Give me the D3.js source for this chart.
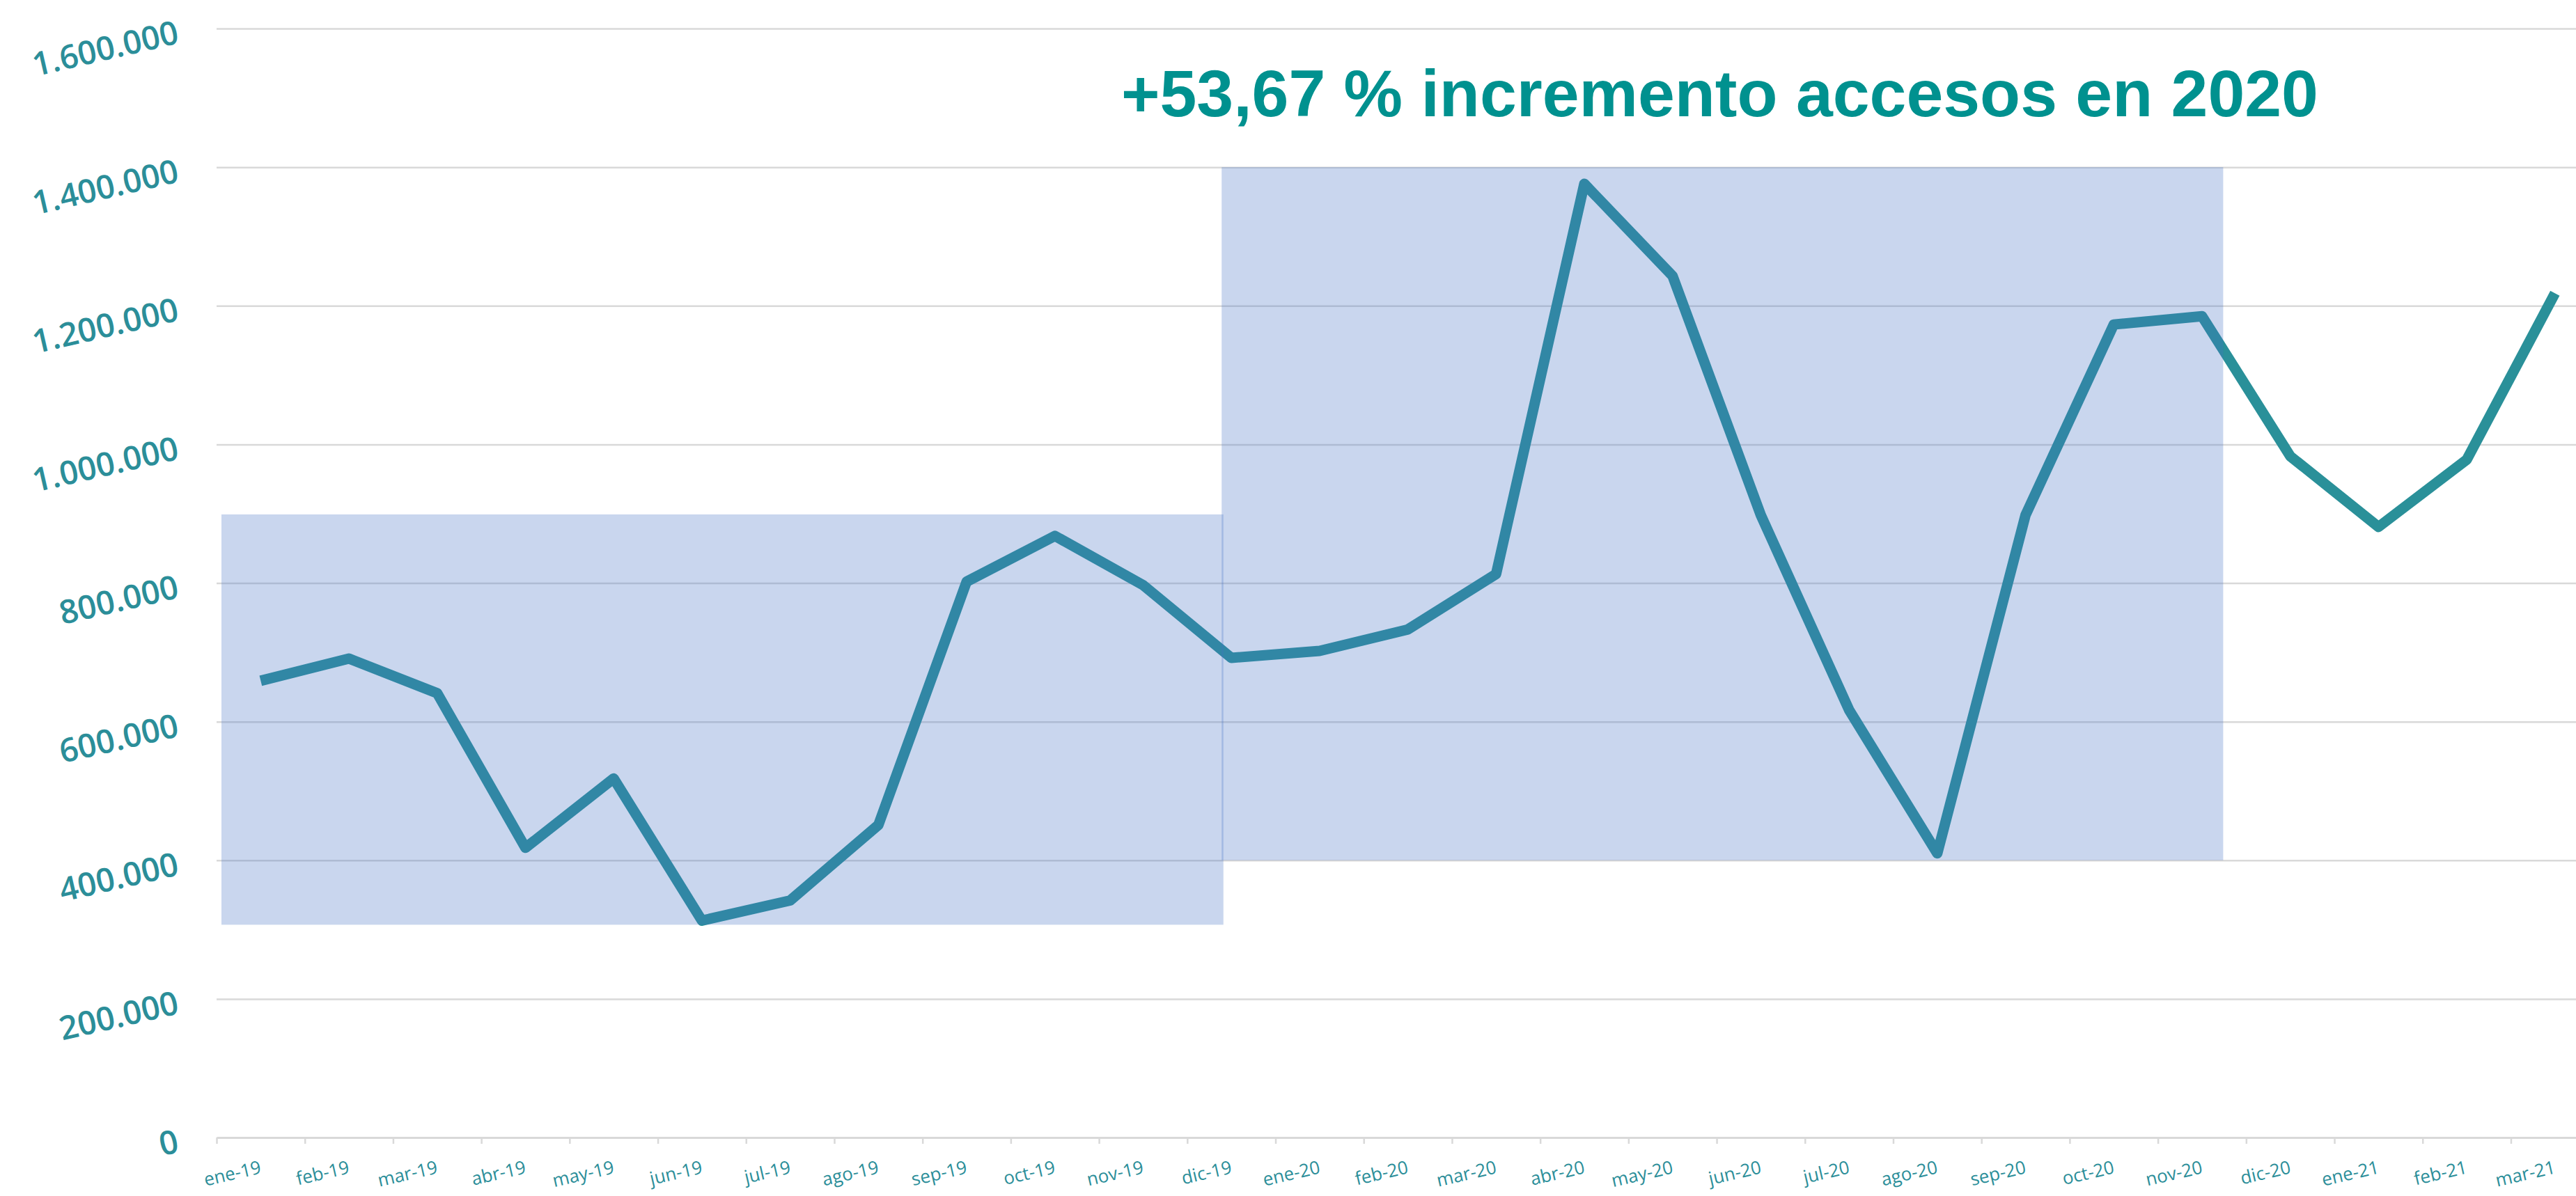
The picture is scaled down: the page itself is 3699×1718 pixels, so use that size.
<!DOCTYPE html>
<meta charset="utf-8">
<style>
body { margin: 0; background: #fff; }
svg { display: block; }
.grid line { stroke: #d9d9d9; stroke-width: 2.5; }
.grid .domain { display: none; }
.ylab { font: 600 47px "Open Sans", sans-serif; fill: #2b8e99; }
.xlab { font: 26px "Open Sans", sans-serif; fill: #2b8e99; }
.title { font: bold 95px "Liberation Sans", Arial, sans-serif; fill: #00918f; }
</style>
<svg width="3699" height="1718"></svg>
<script src="https://cdn.jsdelivr.net/npm/d3@7"></script>
<script>

// months on the category axis
var months = ["ene-19","feb-19","mar-19","abr-19","may-19","jun-19","jul-19","ago-19","sep-19","oct-19","nov-19","dic-19",
  "ene-20","feb-20","mar-20","abr-20","may-20","jun-20","jul-20","ago-20","sep-20","oct-20","nov-20","dic-20",
  "ene-21","feb-21","mar-21"];

// accesos per month
var accesos = [659000, 691000, 641000, 418000, 518000, 313000, 342000, 451000, 802000, 868000, 797000, 692000,
  702000, 733000, 813000, 1376000, 1243000, 898000, 617000, 410000, 898000, 1173000, 1185000, 983000,
  881000, 978000, 1218000];

var yTicks = [0, 200000, 400000, 600000, 800000, 1000000, 1200000, 1400000, 1600000];

// highlight boxes: start/end in month units, value range
var boxStart = [0.055, 11.39];
var boxEnd = [11.41, 22.74];
var boxLow = [307000, 400000];
var boxHigh = [899000, 1400000];

var titleText = "+53,67 % incremento accesos en 2020";

var svg = d3.select("svg"),
  plotLeft = 311,
  step = 126.71,
  plotBottom = 1634,
  plotTop = 41;

var x = d3.scaleLinear().domain([0, months.length]).range([plotLeft, plotLeft + months.length * step]);
var y = d3.scaleLinear().domain([0, 1600000]).range([plotBottom, plotTop]);

var es = d3.formatLocale({decimal: ",", thousands: ".", grouping: [3], currency: ["", "€"]});
var fmt = es.format(",.0f");

// gridlines
svg.append("g")
  .attr("class", "grid")
  .attr("transform", "translate(" + plotLeft + ",0)")
  .call(d3.axisLeft(y).tickValues(yTicks.slice(1)).tickSize(-(3699 - plotLeft)).tickFormat(""));

// y labels, tilted
svg.append("g").selectAll("text")
  .data(yTicks)
  .enter().append("text")
    .attr("class", "ylab")
    .attr("text-anchor", "end")
    .attr("dominant-baseline", "central")
    .attr("transform", function(d) { return "translate(255," + (y(d) + 3) + ") rotate(-13)"; })
    .text(function(d) { return fmt(d); });

// category axis with ticks at the band edges
var xAxis = svg.append("g")
  .attr("transform", "translate(0," + plotBottom + ")")
  .call(d3.axisBottom(x).tickValues(d3.range(months.length + 1)).tickSizeInner(9).tickSizeOuter(0).tickFormat(""));
xAxis.select(".domain").attr("stroke", "#d9d9d9").attr("stroke-width", 3);
xAxis.selectAll(".tick line").attr("stroke", "#d9d9d9").attr("stroke-width", 2.5);

svg.append("g").selectAll("text")
  .data(months)
  .enter().append("text")
    .attr("class", "xlab")
    .attr("text-anchor", "end")
    .attr("transform", function(d, i) { return "translate(" + (x(i + 0.5) + 2) + ",1685) rotate(-13)"; })
    .text(function(d) { return d; });

// the series
var line = d3.line()
  .x(function(d, i) { return x(i + 0.5); })
  .y(function(d) { return y(d); });

svg.append("path")
  .datum(accesos)
  .attr("d", line)
  .attr("fill", "none")
  .attr("stroke", "#2a9099")
  .attr("stroke-width", 15)
  .attr("stroke-linejoin", "round")
  .attr("stroke-linecap", "butt");

// translucent boxes drawn over the line
svg.append("g").selectAll("rect")
  .data(boxStart)
  .enter().append("rect")
    .attr("x", function(d) { return x(d); })
    .attr("width", function(d, i) { return x(boxEnd[i]) - x(d); })
    .attr("y", function(d, i) { return y(boxHigh[i]); })
    .attr("height", function(d, i) { return y(boxLow[i]) - y(boxHigh[i]); })
    .attr("fill", "#4472c4")
    .attr("fill-opacity", 0.29);

svg.append("text")
  .attr("class", "title")
  .attr("x", 1610)
  .attr("y", 167)
  .text(titleText);

</script>
